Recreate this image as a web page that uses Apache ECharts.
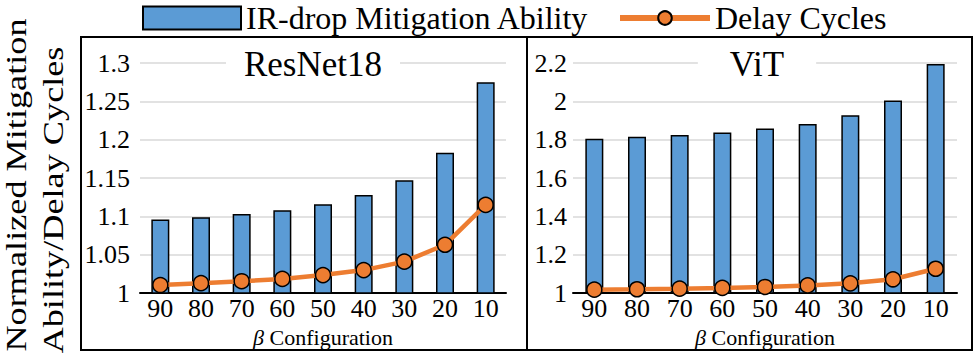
<!DOCTYPE html>
<html>
<head>
<meta charset="utf-8">
<script src="https://cdn.jsdelivr.net/npm/echarts@6/dist/echarts.min.js"></script>
<style>
  html, body { margin: 0; padding: 0; background: #fff; }
  #chart { width: 977px; height: 353px; }
</style>
</head>
<body>
<div id="chart"></div>
<script>
// beta configuration (x axis)
const categories = ['90', '80', '70', '60', '50', '40', '30', '20', '10'];

// ResNet18 panel
const resnetAbility = [1.096, 1.099, 1.103, 1.108, 1.116, 1.128, 1.147, 1.183, 1.275];
const resnetDelay = [1.0105, 1.013, 1.0155, 1.0185, 1.0235, 1.030, 1.041, 1.063, 1.115];

// ViT panel
const vitAbility = [1.805, 1.815, 1.825, 1.837, 1.858, 1.882, 1.927, 2.005, 2.195];
const vitDelay = [1.018, 1.020, 1.023, 1.027, 1.032, 1.040, 1.051, 1.072, 1.127];

const panelTitles = ['ResNet18', 'ViT'];
const seriesNames = ['IR-drop Mitigation Ability', 'Delay Cycles'];

const FONT = 'Times New Roman, serif';
const BLUE = '#5b9bd5';
const ORANGE = '#ed7d31';

// svg renderer: axis text kept its serif family more reliably this way
const chart = echarts.init(document.getElementById('chart'), null, { renderer: 'svg' });

const fmt = (v) => String(parseFloat(v.toFixed(2)));

function xAxisFor(gridIndex) {
  return {
    type: 'category',
    gridIndex: gridIndex,
    data: categories,
    axisTick: { show: false },
    axisLine: { lineStyle: { color: '#000', width: 2 } },
    axisLabel: { color: '#000', fontFamily: FONT, fontSize: 26, margin: 2 },
    name: '{b|β} {t|Configuration}',
    nameLocation: 'middle',
    nameGap: 25,
    nameTextStyle: {
      color: '#000', fontFamily: FONT, fontSize: 22,
      rich: {
        b: { fontStyle: 'italic', fontFamily: FONT, fontSize: 22, color: '#000' },
        t: { fontFamily: FONT, fontSize: 22, color: '#000' }
      }
    }
  };
}

function yAxisFor(gridIndex, max, interval, margin) {
  return {
    type: 'value',
    gridIndex: gridIndex,
    min: 1,
    max: max,
    interval: interval,
    axisLine: { show: false },
    axisTick: { show: false },
    splitLine: { lineStyle: { color: '#d9d9d9', width: 1.5 } },
    axisLabel: {
      color: '#000', fontFamily: FONT, fontSize: 26, margin: margin,
      padding: [12, 0, 0, 0], formatter: fmt
    }
  };
}

function barSeries(idx, data) {
  return {
    name: seriesNames[0],
    type: 'bar',
    xAxisIndex: idx,
    yAxisIndex: idx,
    data: data,
    barWidth: 18,
    itemStyle: { color: BLUE, borderColor: '#000', borderWidth: 1.5 }
  };
}

function lineSeries(idx, data) {
  return {
    name: seriesNames[1],
    type: 'line',
    xAxisIndex: idx,
    yAxisIndex: idx,
    data: data,
    symbol: 'circle',
    symbolSize: 15,
    lineStyle: { color: ORANGE, width: 4.5 },
    itemStyle: { color: ORANGE, borderColor: '#000', borderWidth: 1.5 },
    z: 5
  };
}

const option = {
  animation: false,
  legend: [
    {
      data: [{ name: seriesNames[0], icon: 'rect' }],
      left: 142, top: 2, padding: 0,
      itemWidth: 98, itemHeight: 23,
      itemStyle: { borderColor: '#000', borderWidth: 2 },
      textStyle: { color: '#000', fontFamily: FONT, fontSize: 32 }
    },
    {
      data: [seriesNames[1]],
      left: 617, top: 2, padding: 0,
      itemWidth: 90, itemHeight: 17,
      lineStyle: { width: 6 },
      textStyle: { color: '#000', fontFamily: FONT, fontSize: 32 }
    }
  ],
  grid: [
    { left: 140, right: 471, top: 63, bottom: 52 },
    { left: 573, right: 20, top: 63, bottom: 53 }
  ],
  xAxis: [xAxisFor(0), xAxisFor(1)],
  yAxis: [yAxisFor(0, 1.3, 0.05, 10), yAxisFor(1, 2.2, 0.2, 6)],
  series: [
    barSeries(0, resnetAbility),
    lineSeries(0, resnetDelay),
    barSeries(1, vitAbility),
    lineSeries(1, vitDelay)
  ],
  graphic: [
    // panel frames
    { type: 'rect', shape: { x: 81, y: 37, width: 446, height: 313 },
      style: { fill: null, stroke: '#000', lineWidth: 2 }, z: 50 },
    { type: 'rect', shape: { x: 527, y: 37, width: 445, height: 313 },
      style: { fill: null, stroke: '#000', lineWidth: 2 }, z: 50 },
    // panel titles sitting on the top grid line
    { type: 'text', x: 313, y: 64, z: 60,
      style: { text: panelTitles[0], font: '35px ' + FONT, fill: '#000',
        align: 'center', verticalAlign: 'middle', backgroundColor: '#fff', padding: [2, 18] } },
    { type: 'text', x: 757, y: 64, z: 60,
      style: { text: panelTitles[1], font: '35px ' + FONT, fill: '#000',
        align: 'center', verticalAlign: 'middle', backgroundColor: '#fff', padding: [2, 32] } },
    // shared y axis title (two lines)
    { type: 'text', x: 16, y: 185, rotation: Math.PI / 2, scaleX: 1.25, z: 60,
      style: { text: 'Normalized Mitigation', font: '29px ' + FONT, fill: '#000',
        align: 'center', verticalAlign: 'middle' } },
    { type: 'text', x: 53, y: 200, rotation: Math.PI / 2, scaleX: 1.25, z: 60,
      style: { text: 'Ability/Delay Cycles', font: '29px ' + FONT, fill: '#000',
        align: 'center', verticalAlign: 'middle' } }
  ]
};

chart.setOption(option);
</script>
</body>
</html>
